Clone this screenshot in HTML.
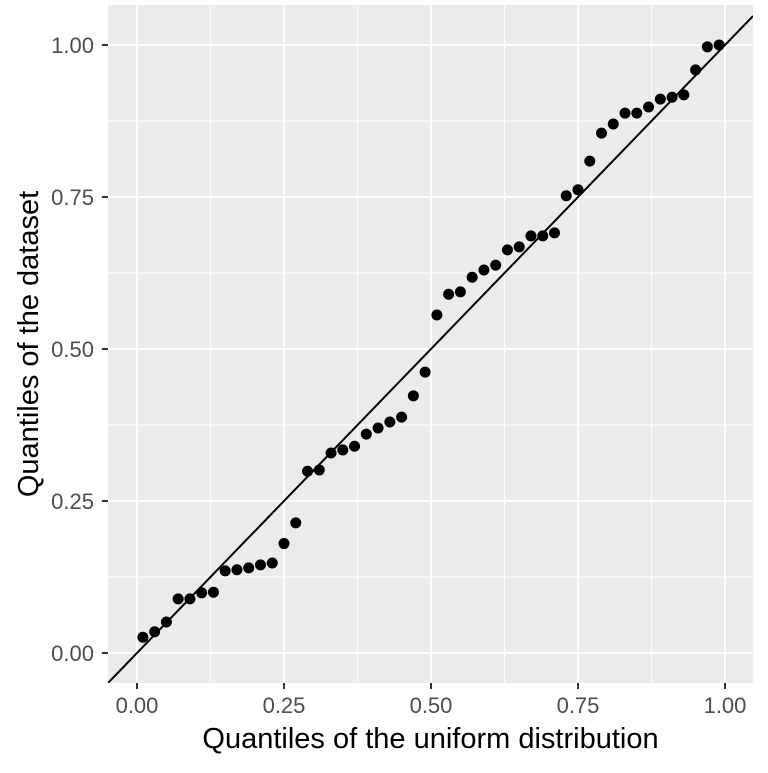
<!DOCTYPE html>
<html><head><meta charset="utf-8"><style>
body{margin:0;background:#fff;}
svg text{font-family:"Liberation Sans",sans-serif;}
</style></head><body>
<svg id="chart" width="768" height="768" xmlns="http://www.w3.org/2000/svg"></svg>
<script>
const xTicks=[0,0.25,0.5,0.75,1];
const xTickLabels=["0.00","0.25","0.50","0.75","1.00"];
const yTicks=[0,0.25,0.5,0.75,1];
const yTickLabels=["0.00","0.25","0.50","0.75","1.00"];
const theoretical=[0.01,0.03,0.05,0.07,0.09,0.11,0.13,0.15,0.17,0.19,0.21,0.23,0.25,0.27,0.29,0.31,0.33,0.35,0.37,0.39,0.41,0.43,0.45,0.47,0.49,0.51,0.53,0.55,0.57,0.59,0.61,0.63,0.65,0.67,0.69,0.71,0.73,0.75,0.77,0.79,0.81,0.83,0.85,0.87,0.89,0.91,0.93,0.95,0.97,0.99];
const sample=[0.026,0.035,0.051,0.089,0.089,0.099,0.100,0.135,0.137,0.140,0.145,0.148,0.180,0.214,0.299,0.301,0.329,0.334,0.340,0.360,0.370,0.380,0.388,0.423,0.462,0.556,0.590,0.594,0.618,0.630,0.638,0.663,0.668,0.686,0.686,0.691,0.752,0.762,0.809,0.855,0.870,0.888,0.888,0.898,0.911,0.914,0.918,0.959,0.997,1.000];

const NS="http://www.w3.org/2000/svg";
const svg=document.getElementById('chart');
const P={l:108,r:753,t:5,b:683};
const xs=v=>137+v*588;
const ys=v=>653-v*608;
function mk(tag,attrs,parent){const e=document.createElementNS(NS,tag);for(const k in attrs)e.setAttribute(k,attrs[k]);(parent||svg).appendChild(e);return e;}

const bg=mk('rect',{x:P.l,y:P.t,width:P.r-P.l,height:P.b-P.t,fill:'#ebebeb'});



for(let i=0;i<xTicks.length-1;i++){
  const mx=(xTicks[i]+xTicks[i+1])/2;
  const g=mk('line',{x1:xs(mx),x2:xs(mx),y1:P.t,y2:P.b,stroke:'#fff','stroke-width':0.9});
  
  
  const my=(yTicks[i]+yTicks[i+1])/2;
  const h=mk('line',{x1:P.l,x2:P.r,y1:ys(my),y2:ys(my),stroke:'#fff','stroke-width':0.9});
  
  
}
xTicks.forEach((v,i)=>{
  const g=mk('line',{x1:xs(v),x2:xs(v),y1:P.t,y2:P.b,stroke:'#fff','stroke-width':1.8});
  
  
  const t=mk('line',{x1:xs(v),x2:xs(v),y1:P.b,y2:P.b+6,stroke:'#333','stroke-width':2});
  
  
  const l=mk('text',{x:xs(v),y:P.b+30,'text-anchor':'middle','font-size':22,fill:'#4d4d4d'});
  l.textContent=xTickLabels[i];
  
  
});
yTicks.forEach((v,i)=>{
  const g=mk('line',{x1:P.l,x2:P.r,y1:ys(v),y2:ys(v),stroke:'#fff','stroke-width':1.8});
  
  
  const t=mk('line',{x1:P.l-6,x2:P.l,y1:ys(v),y2:ys(v),stroke:'#333','stroke-width':2});
  
  
  const l=mk('text',{x:P.l-14,y:ys(v)+8,'text-anchor':'end','font-size':22,fill:'#4d4d4d'});
  l.textContent=yTickLabels[i];
  
  
});

const clip=mk('clipPath',{id:'pc'});
mk('rect',{x:P.l,y:P.t,width:P.r-P.l,height:P.b-P.t},clip);
const x0=(P.l-137)/588, x1=(P.r-137)/588;
const ln=mk('line',{x1:xs(x0),y1:ys(x0),x2:xs(x1),y2:ys(x1),stroke:'#000','stroke-width':2,'clip-path':'url(#pc)'});



theoretical.forEach((v,i)=>{
  const c=mk('circle',{cx:xs(v),cy:ys(sample[i]),r:5.5,fill:'#000'});
  
  
});

const xt=mk('text',{x:(P.l+P.r)/2,y:748,'text-anchor':'middle','font-size':29,fill:'#000'});
xt.textContent='Quantiles of the uniform distribution';


const yt=mk('text',{x:0,y:0,'text-anchor':'middle','font-size':29,fill:'#000',transform:`translate(38,${(P.t+P.b)/2}) rotate(-90)`});
yt.textContent='Quantiles of the dataset';


</script>
</body></html>
